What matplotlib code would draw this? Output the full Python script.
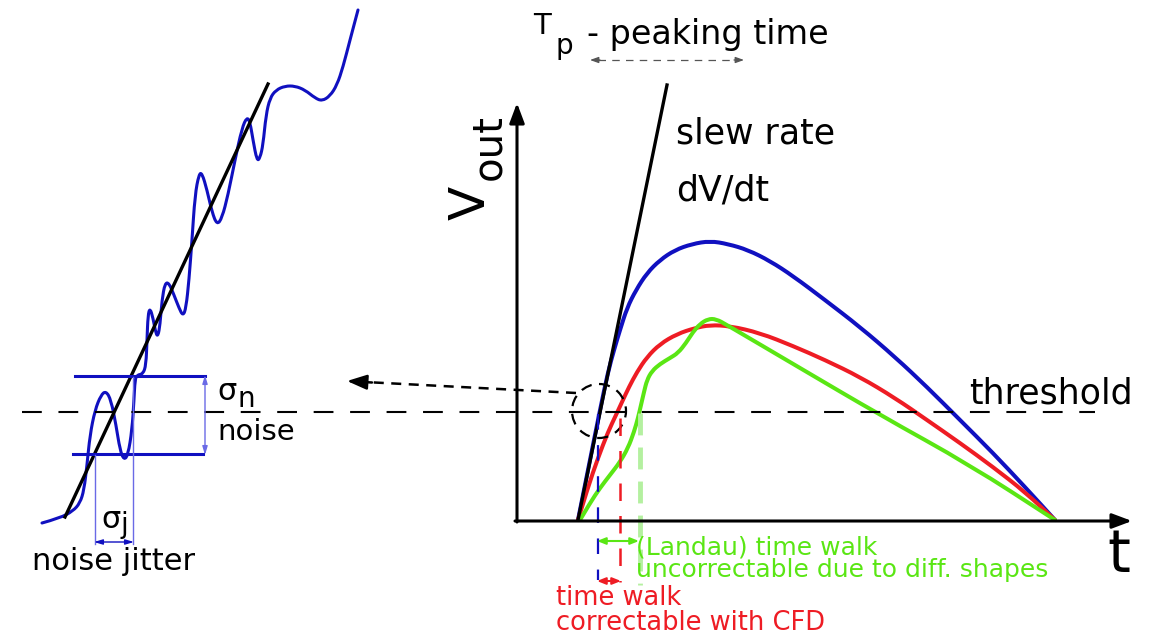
import matplotlib.pyplot as plt
from matplotlib.path import Path
from matplotlib.patches import PathPatch

# colours
blue = '#1010c0'
red = '#ee1c24'
green = '#5ae614'
lgreen = '#b4f0a0'
lblue = '#6a6ae6'

# pulses (pixel coords, y down)
blue_x = [578, 590, 600, 608, 614, 620, 627, 636, 647, 660, 675, 692, 710, 728, 748, 770, 793, 825, 860, 895, 927, 960, 993, 1025, 1055]
blue_y = [520, 460, 410, 372, 350, 330, 308, 290, 273, 260, 250, 244, 241, 244, 250, 261, 276, 300, 327, 357, 387, 420, 453, 487, 520]

red_x = [578, 588, 598, 608, 616, 622, 629, 637, 647, 660, 677, 695, 710, 730, 760, 793, 825, 860, 895, 927, 960, 993, 1025, 1055]
red_y = [520, 487, 458, 432, 415, 402, 387, 372, 357, 344, 334, 328, 325, 326, 333, 346, 360, 377, 398, 420, 443, 467, 492, 520]

green_x = [580, 590, 600, 610, 620, 628, 634, 638, 641, 644, 647, 652, 660, 670, 678, 686, 693, 700, 708, 716, 727, 800, 880, 970, 1055]
green_y = [520, 503, 488, 475, 462, 448, 432, 418, 405, 392, 380, 371, 364, 358, 353, 343, 332, 324, 319, 319, 325, 368, 415, 465, 520]

# noisy leading edge on the left
noise_x = [42, 60, 73, 80, 84, 87, 90, 95, 101, 106, 111, 116, 120, 124, 128, 132, 134, 135, 137, 143, 146, 147, 148, 150,
           153, 156, 158, 160, 162, 165, 169, 174, 179, 183, 186, 189, 192, 195, 199, 202, 207, 212, 217, 222, 228, 235,
           242, 247, 250, 253, 257, 260, 263, 266, 270, 276, 285, 295, 305, 315, 322, 330, 337, 343, 350, 358]
noise_y = [523, 518, 511, 503, 490, 465, 435, 410, 395, 391, 400, 425, 450, 460, 455, 430, 400, 380, 375, 374, 365, 340, 315, 308,
           318, 334, 336, 325, 300, 283, 283, 295, 308, 316, 308, 280, 240, 195, 174, 173, 190, 212, 225, 218, 195, 160,
           128, 117, 122, 140, 161, 158, 145, 115, 98, 90, 86, 86, 90, 98, 101, 96, 85, 67, 40, 10]

threshold_y = 412


def smooth(ax, xs, ys, **kw):
    # quadratic bezier through midpoints, drawn by matplotlib's path renderer
    pts = list(zip(xs, ys))
    verts = [pts[0]]
    codes = [Path.MOVETO]
    for i in range(1, len(pts) - 1):
        mid = ((pts[i][0] + pts[i + 1][0]) / 2, (pts[i][1] + pts[i + 1][1]) / 2)
        verts += [pts[i], mid]
        codes += [Path.CURVE3, Path.CURVE3]
    verts.append(pts[-1])
    codes.append(Path.LINETO)
    ax.add_patch(PathPatch(Path(verts, codes), fill=False, capstyle='round', joinstyle='round', **kw))


fig = plt.figure(figsize=(11.66, 6.35), dpi=100)
ax = fig.add_axes([0, 0, 1, 1])
ax.set_xlim(0, 1166)
ax.set_ylim(635, 0)
ax.axis('off')

# axes of the pulse plot
ax.annotate('', xy=(517, 103), xytext=(517, 522),
            arrowprops=dict(arrowstyle='-|>,head_length=1.2,head_width=0.45', color='black', lw=2.2, shrinkA=0, shrinkB=0))
ax.annotate('', xy=(1132, 521), xytext=(515, 521),
            arrowprops=dict(arrowstyle='-|>,head_length=1.2,head_width=0.45', color='black', lw=2.2, shrinkA=0, shrinkB=0))

# threshold
ax.plot([22, 1095], [threshold_y, threshold_y], color='black', lw=1.5, dashes=(9.5, 8))

# pulses
smooth(ax, blue_x, blue_y, edgecolor=blue, lw=2.9)
smooth(ax, red_x, red_y, edgecolor=red, lw=2.9)
smooth(ax, green_x, green_y, edgecolor=green, lw=2.9)

# slew rate line
ax.plot([578, 667], [520, 85], color='black', lw=2.4)

# crossing markers
ax.plot([598, 598], [414, 580], color=blue, lw=1.6, dashes=(7, 7))
ax.plot([620, 620], [418, 582], color=red, lw=1.8, dashes=(7, 6))
ax.plot([640, 640], [413, 585], color=lgreen, lw=3.5, dashes=(4.5, 2.5))

ax.annotate('', xy=(597, 541), xytext=(639, 541),
            arrowprops=dict(arrowstyle='<|-|>,head_length=0.5,head_width=0.2', color=green, lw=1.5, shrinkA=0, shrinkB=0))
ax.annotate('', xy=(597, 581), xytext=(621, 581),
            arrowprops=dict(arrowstyle='<|-|>,head_length=0.5,head_width=0.2', color=red, lw=1.5, shrinkA=0, shrinkB=0))

# zoom circle + arrow to the left
circ = plt.Circle((599, 411), 27, fill=False, color='black', lw=1.6, linestyle=(0, (5, 3.5)))
ax.add_patch(circ)
ax.plot([576, 365], [393, 382], color='black', lw=1.8, dashes=(4, 3))
ax.annotate('', xy=(347, 381), xytext=(372, 382.5),
            arrowprops=dict(arrowstyle='-|>,head_length=1.2,head_width=0.45', color='black', lw=1.8, shrinkA=0, shrinkB=0))

# peaking time arrow
ax.plot([598, 735], [60, 60], color='#555555', lw=0.9, dashes=(6, 5))
ax.annotate('', xy=(590, 60), xytext=(600, 60),
            arrowprops=dict(arrowstyle='-|>,head_length=0.5,head_width=0.18', color='#555555', lw=0.9, shrinkA=0, shrinkB=0))
ax.annotate('', xy=(744, 60), xytext=(734, 60),
            arrowprops=dict(arrowstyle='-|>,head_length=0.5,head_width=0.18', color='#555555', lw=0.9, shrinkA=0, shrinkB=0))

# left panel: noise
ax.plot([65, 268], [517, 84], color='black', lw=2.4)
smooth(ax, noise_x, noise_y, edgecolor=blue, lw=2.2)
ax.plot([75, 205], [376, 376], color=blue, lw=2.2)
ax.plot([73, 203], [454, 454], color=blue, lw=2.2)
ax.annotate('', xy=(205, 375), xytext=(205, 455),
            arrowprops=dict(arrowstyle='<|-|>,head_length=0.5,head_width=0.15', color=lblue, lw=1.0, shrinkA=0, shrinkB=0))
ax.plot([95, 95], [455, 544], color=lblue, lw=1.0)
ax.plot([133, 133], [377, 544], color=lblue, lw=1.0)
ax.annotate('', xy=(94, 542), xytext=(134, 542),
            arrowprops=dict(arrowstyle='<|-|>,head_length=0.5,head_width=0.15', color=blue, lw=1.0, shrinkA=0, shrinkB=0))

# text
ax.text(485, 220, 'V', fontsize=36, rotation=90, rotation_mode='anchor', ha='left', va='baseline')
ax.text(500, 180, 'out', fontsize=29, rotation=90, rotation_mode='anchor', ha='left', va='baseline')
ax.text(1107, 572, 't', fontsize=42, ha='left', va='baseline')
ax.text(533, 34, '\u03a4', fontsize=21, ha='left', va='baseline')
ax.text(556, 54, 'p', fontsize=20, ha='left', va='baseline')
ax.text(587, 44, '- peaking time', fontsize=24, ha='left', va='baseline')
ax.text(676, 143, 'slew rate', fontsize=25, ha='left', va='baseline')
ax.text(676, 200, 'dV/dt', fontsize=25, ha='left', va='baseline')
ax.text(969, 403, 'threshold', fontsize=25, ha='left', va='baseline')
ax.text(636, 555, '(Landau) time walk', fontsize=18, color=green, ha='left', va='baseline')
ax.text(636, 577, 'uncorrectable due to diff. shapes', fontsize=18, color=green, ha='left', va='baseline')
ax.text(556, 605, 'time walk', fontsize=18.5, color=red, ha='left', va='baseline')
ax.text(556, 630, 'correctable with CFD', fontsize=18.5, color=red, ha='left', va='baseline')
ax.text(217, 400, '\u03c3', fontsize=22, ha='left', va='baseline')
ax.text(238, 407, 'n', fontsize=20, ha='left', va='baseline')
ax.text(217, 440, 'noise', fontsize=21, ha='left', va='baseline')
ax.text(101, 528, '\u03c3', fontsize=22, ha='left', va='baseline')
ax.text(121, 533, 'j', fontsize=20, ha='left', va='baseline')
ax.text(32, 570, 'noise jitter', fontsize=22, ha='left', va='baseline')

fig.savefig('out.png', dpi=100)
